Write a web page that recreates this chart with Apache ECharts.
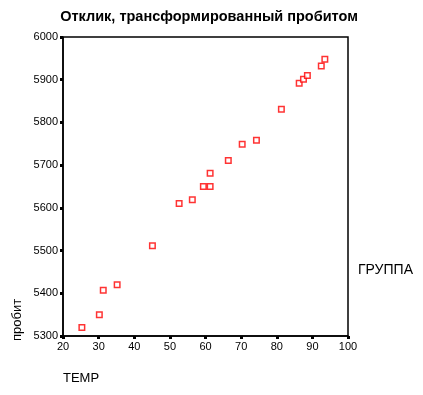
<!DOCTYPE html>
<html><head><meta charset="utf-8">
<script src="https://cdn.jsdelivr.net/npm/echarts@6/dist/echarts.min.js"></script>
<style>html,body{margin:0;padding:0;background:#fff}#c{width:423px;height:395px}</style>
</head><body><div id="c"></div>
<script>
const temp = [25.3, 30.2, 31.3, 35.2, 45.1, 52.6, 56.3, 59.4, 61.3, 61.3, 66.4, 70.3, 74.3, 81.3, 86.3, 87.5, 88.6, 92.5, 93.5];
const probit = [5320, 5350, 5407, 5420, 5511, 5610, 5619, 5650, 5650, 5681, 5711, 5749, 5758, 5831, 5892, 5901, 5910, 5932, 5948];
const titleText = 'Отклик, трансформированный пробитом';
const xName = 'TEMP', yName = 'пробит', legendName = 'ГРУППА';
const data = temp.map((t, i) => [t, probit[i]]);
const chart = echarts.init(document.getElementById('c'));
const font = 'Liberation Sans, Arial, sans-serif';
chart.setOption({
  animation: false,
  title: {text: titleText, left: 204, top: 4, textAlign: 'center',
    textStyle: {fontFamily: font, fontSize: 14.5, fontWeight: 'bold', color: '#000'}},
  grid: {left: 63, top: 37, width: 285, height: 299, show: true, borderColor: '#000', borderWidth: 1.5, backgroundColor: 'transparent'},
  xAxis: {type: 'value', min: 20, max: 100, interval: 10,
    axisLine: {lineStyle: {color: '#000', width: 1.5}},
    axisTick: {length: 3, lineStyle: {color: '#000', width: 3}},
    axisLabel: {fontFamily: font, fontSize: 11, color: '#000', margin: 5, formatter: v => String(v)},
    splitLine: {show: false}},
  yAxis: {type: 'value', min: 5300, max: 6000, interval: 100,
    axisLine: {lineStyle: {color: '#000', width: 1.5}},
    axisTick: {length: 3, lineStyle: {color: '#000', width: 3}},
    axisLabel: {fontFamily: font, fontSize: 11, color: '#000', margin: 5, formatter: v => String(v)},
    splitLine: {show: false}},
  graphic: [
    {type: 'text', left: 63, top: 372, style: {text: xName, fontFamily: font, fontSize: 13, fill: '#000'}},
    {type: 'text', x: 11, y: 341, rotation: Math.PI/2, style: {text: yName, fontFamily: font, fontSize: 13, fill: '#000'}},
    {type: 'text', left: 358, top: 263, style: {text: legendName, fontFamily: font, fontSize: 14, fill: '#000'}}
  ],
  series: [{type: 'scatter', data: data, symbol: 'rect', symbolSize: 5.5,
    itemStyle: {color: '#fff', borderColor: '#ff0000', borderWidth: 1.5}}]
});
</script></body></html>
